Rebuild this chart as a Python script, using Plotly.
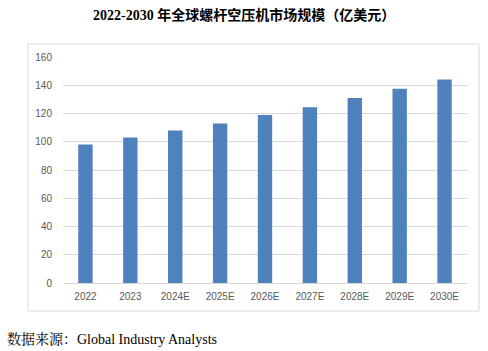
import plotly.graph_objects as go

categories = ["2022", "2023", "2024E", "2025E", "2026E", "2027E", "2028E", "2029E", "2030E"]
values = [98, 103, 108, 113, 119, 124.5, 131, 137.5, 144]
y_ticks = [0, 20, 40, 60, 80, 100, 120, 140, 160]

title_text = "2022-2030 年全球螺杆空压机市场规模（亿美元）"
source_text = "数据来源：Global Industry Analysts"

W, H = 488, 351
L, R, T, B = 63, 21, 57, 68
pw, ph = W - L - R, H - T - B

def px_x(x):
    return (x - L) / pw

def px_y(y):
    return (H - B - y) / ph

fig = go.Figure()
fig.add_trace(go.Bar(x=categories, y=values, marker=dict(color="#4f81bd", line=dict(width=0))))

fig.update_layout(
    width=W, height=H,
    margin=dict(l=L, r=R, t=T, b=B),
    paper_bgcolor="white", plot_bgcolor="white",
    bargap=0.68,
    showlegend=False,
    font=dict(family="Liberation Sans, Arial, sans-serif", color="#595959", size=10),
    xaxis=dict(type="category", range=[-0.5, 8.5], showgrid=False, showline=False,
               ticks="", tickfont=dict(size=10, color="#595959"), ticklabelstandoff=6),
    yaxis=dict(range=[0, 160], tickvals=y_ticks, showgrid=True, gridcolor="#d9d9d9",
               gridwidth=1, zeroline=True, zerolinecolor="#d9d9d9", zerolinewidth=1,
               showline=False, ticks="", tickfont=dict(size=10, color="#595959"),
               ticklabelstandoff=10),
    shapes=[dict(type="rect", xref="paper", yref="paper",
                 x0=px_x(28), x1=px_x(479), y0=px_y(311), y1=px_y(44),
                 line=dict(color="#d9d9d9", width=1), fillcolor="rgba(0,0,0,0)", layer="below")],
    annotations=[
        dict(text="<b>" + title_text + "</b>", xref="paper", yref="paper",
             x=px_x(244), y=px_y(15), xanchor="center", yanchor="middle", showarrow=False,
             font=dict(family="Liberation Serif, Noto Sans CJK SC", size=14, color="black")),
        dict(text=source_text, xref="paper", yref="paper",
             x=px_x(5), y=px_y(339), xanchor="left", yanchor="middle", showarrow=False,
             font=dict(family="Liberation Serif, Noto Serif CJK SC, Noto Sans CJK SC", size=14, color="black")),
    ],
)

fig.write_html("out.html")
